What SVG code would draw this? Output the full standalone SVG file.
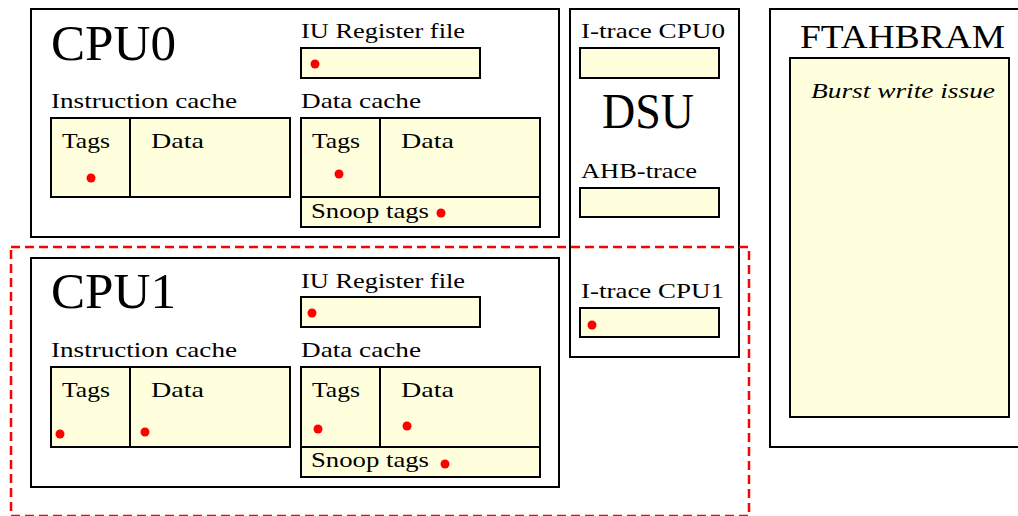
<svg xmlns="http://www.w3.org/2000/svg" width="1018" height="516" viewBox="0 0 1018 516">
<style>
.box{fill:#ffffff;stroke:#000;stroke-width:2}
.mem{fill:#ffffdd;stroke:#000;stroke-width:2}
.t{font-family:"Liberation Serif","DejaVu Serif",serif;fill:#000}
.s{font-size:21px}
.b{font-size:50px}
.dot{fill:#ff0000}
.dash{fill:none;stroke:#ff0000;stroke-width:2.5;stroke-dasharray:9 5}
</style>
<rect width="1018" height="516" fill="#ffffff"/>
<g id="cpu0">
<rect class="box" x="31" y="9" width="528" height="228"/>
<text class="t b" x="51" y="60" textLength="125" lengthAdjust="spacingAndGlyphs">CPU0</text>
<text class="t s" x="301" y="38" textLength="164" lengthAdjust="spacingAndGlyphs">IU Register file</text>
<rect class="mem" x="301" y="48" width="179" height="30"/>
<circle class="dot" cx="315" cy="64" r="4.5"/>
<text class="t s" x="51" y="108" textLength="186" lengthAdjust="spacingAndGlyphs">Instruction cache</text>
<rect class="mem" x="51" y="118" width="239" height="79"/>
<line x1="130" y1="118" x2="130" y2="197" stroke="#000" stroke-width="2"/>
<text class="t s" x="62" y="148" textLength="48" lengthAdjust="spacingAndGlyphs">Tags</text>
<text class="t s" x="151" y="148" textLength="53" lengthAdjust="spacingAndGlyphs">Data</text>
<circle class="dot" cx="91" cy="178" r="4.5"/>
<text class="t s" x="301" y="108" textLength="120" lengthAdjust="spacingAndGlyphs">Data cache</text>
<rect class="mem" x="301" y="118" width="239" height="79"/>
<line x1="380" y1="118" x2="380" y2="197" stroke="#000" stroke-width="2"/>
<rect class="mem" x="301" y="197" width="239" height="30"/>
<text class="t s" x="312" y="148" textLength="48" lengthAdjust="spacingAndGlyphs">Tags</text>
<text class="t s" x="401" y="148" textLength="53" lengthAdjust="spacingAndGlyphs">Data</text>
<circle class="dot" cx="339" cy="174" r="4.5"/>
<text class="t s" x="311" y="218" textLength="118" lengthAdjust="spacingAndGlyphs">Snoop tags</text>
<circle class="dot" cx="441" cy="213" r="4.5"/>
</g>
<g id="cpu1">
<rect class="box" x="31" y="258" width="528" height="229"/>
<text class="t b" x="51" y="308" textLength="125" lengthAdjust="spacingAndGlyphs">CPU1</text>
<text class="t s" x="301" y="288" textLength="164" lengthAdjust="spacingAndGlyphs">IU Register file</text>
<rect class="mem" x="301" y="297" width="179" height="30"/>
<circle class="dot" cx="312" cy="313" r="4.5"/>
<text class="t s" x="51" y="357" textLength="186" lengthAdjust="spacingAndGlyphs">Instruction cache</text>
<rect class="mem" x="51" y="367" width="239" height="80"/>
<line x1="130" y1="367" x2="130" y2="447" stroke="#000" stroke-width="2"/>
<text class="t s" x="62" y="397" textLength="48" lengthAdjust="spacingAndGlyphs">Tags</text>
<text class="t s" x="151" y="397" textLength="53" lengthAdjust="spacingAndGlyphs">Data</text>
<circle class="dot" cx="60" cy="434" r="4.5"/>
<circle class="dot" cx="145" cy="432" r="4.5"/>
<text class="t s" x="301" y="357" textLength="120" lengthAdjust="spacingAndGlyphs">Data cache</text>
<rect class="mem" x="301" y="367" width="239" height="80"/>
<line x1="380" y1="367" x2="380" y2="447" stroke="#000" stroke-width="2"/>
<rect class="mem" x="301" y="447" width="239" height="30"/>
<text class="t s" x="312" y="397" textLength="48" lengthAdjust="spacingAndGlyphs">Tags</text>
<text class="t s" x="401" y="397" textLength="53" lengthAdjust="spacingAndGlyphs">Data</text>
<circle class="dot" cx="318" cy="429" r="4.5"/>
<circle class="dot" cx="407" cy="426" r="4.5"/>
<text class="t s" x="311" y="467" textLength="118" lengthAdjust="spacingAndGlyphs">Snoop tags</text>
<circle class="dot" cx="445" cy="464" r="4.5"/>
</g>
<g id="dsu">
<rect class="box" x="570" y="9" width="169" height="348"/>
<text class="t s" x="581" y="38" textLength="144" lengthAdjust="spacingAndGlyphs">I-trace CPU0</text>
<rect class="mem" x="580" y="48" width="139" height="30"/>
<text class="t b" x="602" y="128" textLength="92" lengthAdjust="spacingAndGlyphs">DSU</text>
<text class="t s" x="581" y="178" textLength="116" lengthAdjust="spacingAndGlyphs">AHB-trace</text>
<rect class="mem" x="580" y="188" width="139" height="29"/>
<text class="t s" x="581" y="298" textLength="143" lengthAdjust="spacingAndGlyphs">I-trace CPU1</text>
<rect class="mem" x="580" y="308" width="139" height="29"/>
<circle class="dot" cx="592" cy="325" r="4.5"/>
</g>
<g id="ftahbram">
<rect class="box" x="770" y="9" width="260" height="438"/>
<text class="t" font-size="34" x="800" y="48" textLength="205" lengthAdjust="spacingAndGlyphs">FTAHBRAM</text>
<rect class="mem" x="790" y="58" width="219" height="359"/>
<text class="t s" font-style="italic" x="811" y="98" textLength="184" lengthAdjust="spacingAndGlyphs">Burst write issue</text>
</g>
<g id="connectors">
<rect class="dash" x="11" y="247" width="738" height="269"/>
</g>
</svg>
